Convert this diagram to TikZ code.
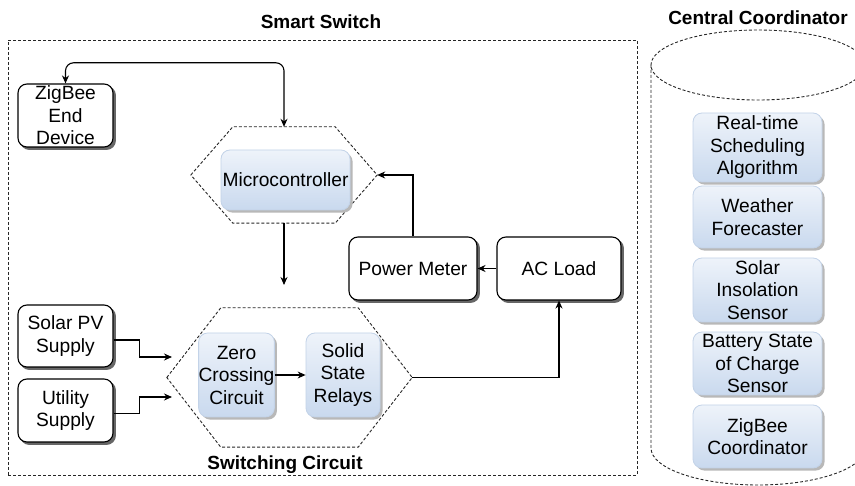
\documentclass[tikz,border=0pt]{standalone}
\usepackage{fontspec}
\setmainfont{Liberation Sans}
\usetikzlibrary{arrows.meta,calc}
\definecolor{boxtop}{HTML}{EEF3FA}
\definecolor{boxbot}{HTML}{C9D9EE}
\definecolor{boxedge}{HTML}{C3D3E8}
\tikzset{
  lbl/.style={font=\fontsize{19.2}{22.5}\selectfont, align=center, inner sep=0pt},
  whitebox/.style={lbl, draw=black, line width=1.1pt, fill=white, rounded corners=9pt,
    preaction={draw=black!60, fill=black!60, line width=1.1pt,
      transform canvas={xshift=2.4pt, yshift=-2.4pt}}},
  bluebox/.style={lbl, draw=boxedge, line width=0.8pt, rounded corners=9pt,
    top color=boxtop, bottom color=boxbot,
    preaction={fill=black!28, transform canvas={xshift=2.6pt, yshift=-2.6pt}}},
  frame/.style={draw=black!85, line width=0.9pt, dash pattern=on 3pt off 2pt},
  title/.style={font=\fontsize{19}{22}\selectfont\bfseries, inner sep=0pt},
  wire/.style={draw=black, line width=1.1pt, -{Stealth[length=8pt,width=7pt]}},
  area/.style={inner sep=0pt, minimum width=#1},
}
\begin{document}
\begin{tikzpicture}[x=1pt, y=-1pt]
\useasboundingbox (0,0) rectangle (855,486);

% ---- Smart switch enclosure
\node[title] (sstitle) at (321,22) {Smart Switch};
\node[frame, inner sep=0pt, minimum width=629pt, minimum height=435pt] (ss) at (322.5,257.5) {};

% ---- Microcontroller block (hexagon around a module)
\node[area=186pt, minimum height=96pt] (mc) at (284,175) {};
\draw[frame, fill=white]
  (mc.west) -- ($(mc.north west)+(42,0)$) -- ($(mc.north east)+(-42,0)$) -- (mc.east)
  -- ($(mc.south east)+(-42,0)$) -- ($(mc.south west)+(42,0)$) -- cycle;
\node[bluebox, minimum width=129pt, minimum height=60pt] (mcu) at (285.5,180) {Microcontroller};

% ---- Switching circuit block
\node[area=245pt, minimum height=139pt] (sw) at (289.5,377.5) {};
\draw[frame, fill=white]
  (sw.west) -- ($(sw.north west)+(54,0)$) -- ($(sw.north east)+(-54,0)$) -- (sw.east)
  -- ($(sw.south east)+(-54,0)$) -- ($(sw.south west)+(54,0)$) -- cycle;
\node[bluebox, minimum width=75pt, minimum height=84pt] (zc) at (236.5,375) {Zero\\Crossing\\Circuit};
\node[bluebox, minimum width=74pt, minimum height=84pt] (ssr) at (343,375) {Solid\\State\\Relays};
\node[title] (swtitle) at (285,465) {Switching Circuit};

% ---- Peripheral blocks
\node[whitebox, minimum width=95pt, minimum height=63pt] (zed) at (65.5,115.5) {ZigBee\\End\\Device};
\node[whitebox, minimum width=95pt, minimum height=62pt] (solar) at (65.5,336) {Solar PV\\Supply};
\node[whitebox, minimum width=95pt, minimum height=63pt] (util) at (65.5,410.5) {Utility\\Supply};
\node[whitebox, minimum width=128pt, minimum height=63pt] (pm) at (413,268.5) {Power Meter};
\node[whitebox, minimum width=124pt, minimum height=63pt] (ac) at (559,268.5) {AC Load};

% ---- Connections
\coordinate (mcout) at (284,285);
\coordinate (swina) at (172,357);
\coordinate (swinb) at (172,397);
\draw[wire, {Stealth[length=8pt,width=7pt]}-{Stealth[length=8pt,width=7pt]}, rounded corners=8pt]
  (mc.north) -- ++(0,-64) -| (zed.north);
\draw[wire] (mc.south) -- (mcout);
\draw[wire] (ac.west) -- (pm.east);
\draw[wire] (pm.north) |- (mc.east);
\draw[wire] ([yshift=-4pt]solar.east) -- ++(26,0) |- (swina);
\draw[wire] ([yshift=-3pt]util.east) -- ++(26,0) |- (swinb);
\draw[wire] (zc.east) -- (ssr.west);
\draw[wire] (sw.east) -| (ac.south);

% ---- Central coordinator (cylinder)
\node[title] (cctitle) at (758,18) {Central Coordinator};
\draw[frame] (758,65) ellipse [x radius=107pt, y radius=35pt];
\draw[frame] (651,65) -- (651,448) arc[start angle=180, end angle=360, x radius=107pt, y radius=37pt] -- (865,65);

\node[bluebox, minimum width=129pt, minimum height=69pt] (rts) at (757.5,147.5) {Real-time\\Scheduling\\Algorithm};
\node[bluebox, minimum width=129pt, minimum height=62pt] (wf) at (757.5,217) {Weather\\Forecaster};
\node[bluebox, minimum width=129pt, minimum height=64pt] (sis) at (757.5,290) {Solar\\Insolation\\Sensor};
\node[bluebox, minimum width=129pt, minimum height=63pt] (bss) at (757.5,363.5) {Battery State\\of Charge\\Sensor};
\node[bluebox, minimum width=129pt, minimum height=63pt] (zco) at (757.5,436.5) {ZigBee\\Coordinator};
\end{tikzpicture}
\end{document}
